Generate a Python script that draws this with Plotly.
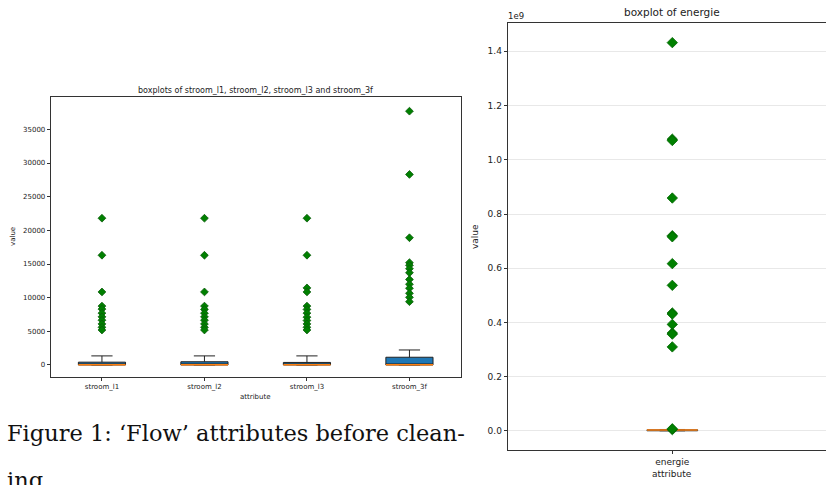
import plotly.graph_objects as go

W, H = 826, 485

# ---------------- data ----------------
flow_categories = ["stroom_l1", "stroom_l2", "stroom_l3", "stroom_3f"]
flow_q1 = [0, 0, 0, 0]
flow_median = [20, 20, 20, 40]
flow_q3 = [420, 480, 380, 1150]
flow_lower = [0, 0, 0, 0]
flow_upper = [1350, 1350, 1350, 2230]
flow_outliers = [
    [21800, 16300, 10850, 8750, 8300, 7700, 7150, 6650, 6100, 5600, 5200],
    [21800, 16300, 10850, 8750, 8250, 7700, 7150, 6650, 6100, 5600, 5200],
    [21800, 16300, 11450, 10850, 8750, 8250, 7700, 7100, 6600, 6100, 5600, 5200],
    [37700, 28300, 18900, 15200, 14800, 14300, 13700, 12700, 12000, 11400, 10650, 10050, 9400],
]
flow_yticks = [0, 5000, 10000, 15000, 20000, 25000, 30000, 35000]

energie_category = ["energie"]
energie_q1 = [0]
energie_median = [4.0e6]
energie_q3 = [4.5e6]
energie_lower = [0]
energie_upper = [5.5e6]
energie_outliers = [1.432e9, 1.076e9, 1.071e9, 0.859e9, 0.720e9, 0.716e9, 0.617e9,
                    0.537e9, 0.435e9, 0.431e9, 0.393e9, 0.361e9, 0.357e9, 0.310e9,
                    5.0e6, 8.0e6]
energie_yticks = [0.0, 0.2, 0.4, 0.6, 0.8, 1.0, 1.2, 1.4]

caption_line1 = "Figure 1: \u2018Flow\u2019 attributes before clean-"
caption_line2 = "ing."

# ---------------- styles ----------------
BOX_FILL = "#1f77b4"
MEDIAN = "#ff7f0e"
FLIER = "#008000"
FONT = "DejaVu Sans"

def px_x(x):
    return x / W

def px_y(y):
    return 1 - y / H

fig = go.Figure()

# ---- left panel: flow boxplots ----
flow_pos = list(range(1, len(flow_categories) + 1))
box_w = 0.46
fig.add_trace(go.Box(
    x=flow_pos, q1=flow_q1, median=flow_median, q3=flow_q3,
    lowerfence=flow_lower, upperfence=flow_upper,
    width=box_w, whiskerwidth=0.45, boxpoints=False,
    fillcolor=BOX_FILL, line=dict(color="#222222", width=1),
    xaxis="x", yaxis="y", showlegend=False, hoverinfo="skip",
))
mx, my = [], []
for p, m in zip(flow_pos, flow_median):
    mx += [p - box_w / 2, p + box_w / 2, None]
    my += [m, m, None]
fig.add_trace(go.Scatter(x=mx, y=my, mode="lines", line=dict(color=MEDIAN, width=1.5),
                         xaxis="x", yaxis="y", showlegend=False, hoverinfo="skip"))
ox, oy = [], []
for p, vals in zip(flow_pos, flow_outliers):
    ox += [p] * len(vals)
    oy += vals
fig.add_trace(go.Scatter(x=ox, y=oy, mode="markers",
                         marker=dict(symbol="diamond", size=6, color=FLIER,
                                     line=dict(color="#0a5a0a", width=0.8)),
                         xaxis="x", yaxis="y", showlegend=False))

# ---- right panel: energie boxplot ----
e_pos = [1]
e_w = 0.154
fig.add_trace(go.Box(
    x=e_pos, q1=energie_q1, median=energie_median, q3=energie_q3,
    lowerfence=energie_lower, upperfence=energie_upper,
    width=e_w, whiskerwidth=0.5, boxpoints=False,
    fillcolor=BOX_FILL, line=dict(color="#222222", width=0.6),
    xaxis="x2", yaxis="y2", showlegend=False, hoverinfo="skip",
))
fig.add_trace(go.Scatter(x=[e_pos[0] - e_w / 2, e_pos[0] + e_w / 2], y=[energie_median[0]] * 2,
                         mode="lines", line=dict(color=MEDIAN, width=1.5),
                         xaxis="x2", yaxis="y2", showlegend=False, hoverinfo="skip"))
fig.add_trace(go.Scatter(x=[e_pos[0]] * len(energie_outliers), y=energie_outliers, mode="markers",
                         marker=dict(symbol="diamond", size=8, color=FLIER,
                                     line=dict(color="#006400", width=0.8)),
                         xaxis="x2", yaxis="y2", showlegend=False))

axis_common = dict(showline=True, linecolor="#333333", linewidth=1, mirror=True,
                   ticks="outside", ticklen=3, tickcolor="#333333", zeroline=False)

fig.update_layout(
    width=W, height=H, margin=dict(l=0, r=0, t=0, b=0),
    paper_bgcolor="white", plot_bgcolor="white",
    font=dict(family=FONT, color="#222222"),
    xaxis=dict(domain=[px_x(50.7), px_x(460.7)], range=[0.5, 4.5],
               tickvals=flow_pos, ticktext=flow_categories, showgrid=False,
               tickfont=dict(size=7), anchor="y", **axis_common),
    yaxis=dict(domain=[px_y(376.7), px_y(97.3)], range=[-1740, 39760],
               tickvals=flow_yticks, ticktext=[str(v) for v in flow_yticks],
               showgrid=False, tickfont=dict(size=7),
               anchor="x", **axis_common),
    xaxis2=dict(domain=[px_x(507.7), 1.0], range=[0.5, 0.5 + (826 - 507.7) / 329.2],
                tickvals=e_pos, ticktext=energie_category, showgrid=False,
                tickfont=dict(size=9), anchor="y2", **axis_common),
    yaxis2=dict(domain=[px_y(450), px_y(22.7)], range=[-0.0702e9, 1.5055e9],
                tickvals=[v * 1e9 for v in energie_yticks],
                ticktext=[f"{v:.1f}" for v in energie_yticks],
                showgrid=True, gridcolor="#e8e8e8", gridwidth=1,
                tickfont=dict(size=9), anchor="x2", **axis_common),
)

ann = [
    dict(text="boxplots of stroom_l1, stroom_l2, stroom_l3 and stroom_3f", x=px_x(255.7), y=px_y(90),
         font=dict(size=8)),
    dict(text="value", x=px_x(13), y=px_y(237), textangle=-90, font=dict(size=7)),
    dict(text="attribute", x=px_x(255.7), y=px_y(397), font=dict(size=7)),
    dict(text="boxplot of energie", x=px_x(672.3), y=px_y(12), font=dict(size=10.5)),
    dict(text="1e9", x=px_x(516), y=px_y(16), font=dict(size=8.5)),
    dict(text="value", x=px_x(475), y=px_y(237), textangle=-90, font=dict(size=9)),
    dict(text="attribute", x=px_x(672.3), y=px_y(474), font=dict(size=9)),
    dict(text=caption_line1, x=px_x(5), y=px_y(433), xanchor="left",
         font=dict(size=22.5, family="DejaVu Serif", color="#111111")),
    dict(text=caption_line2, x=px_x(5), y=px_y(480), xanchor="left",
         font=dict(size=22.5, family="DejaVu Serif", color="#111111")),
]
for a in ann:
    a.setdefault("xanchor", "center")
    a.setdefault("yanchor", "middle")
    fig.add_annotation(xref="paper", yref="paper", showarrow=False, **a)

fig.write_html("out.html", config={"displayModeBar": False},
               post_script="document.body.style.margin='0';document.body.style.overflow='hidden';")
